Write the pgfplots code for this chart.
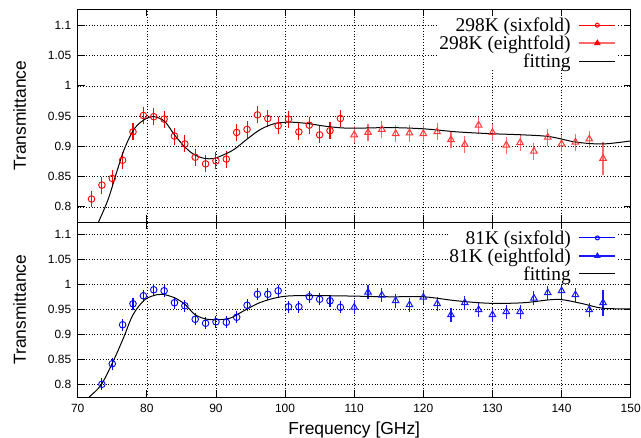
\documentclass[border=0pt]{standalone}
\usepackage{fontspec}
\setmainfont{Liberation Sans}
\newfontfamily\legfont{Liberation Serif}
\usepackage{pgfplots}
\pgfplotsset{compat=1.18}
\usepackage{pgfplotstable}

\definecolor{redA}{RGB}{255,0,0}
\definecolor{redB}{RGB}{255,55,55}
\definecolor{redBbar}{RGB}{255,105,105}
\definecolor{blueA}{RGB}{0,0,255}
\definecolor{blueB}{RGB}{25,25,255}

\pgfplotstableread{
x y e
72 0.813 0.014
73.5 0.836 0.014
75 0.847 0.014
76.5 0.877 0.014
78 0.924 0.014
79.5 0.951 0.014
81 0.949 0.014
82.5 0.945 0.014
84 0.917 0.014
85.5 0.904 0.014
87 0.882 0.014
88.5 0.871 0.014
90 0.876 0.014
91.5 0.879 0.014
93 0.923 0.014
94.5 0.928 0.014
96 0.952 0.014
97.5 0.946 0.014
99 0.934 0.014
100.5 0.945 0.014
102 0.924 0.014
103.5 0.935 0.014
105 0.919 0.014
106.5 0.926 0.014
108 0.946 0.014
}\topsix

\pgfplotstableread{
x y e
110 0.919 0.014
112 0.923 0.014
114 0.928 0.014
116 0.921 0.014
118 0.922 0.014
120 0.921 0.014
122 0.924 0.014
124 0.911 0.014
126 0.903 0.014
128 0.935 0.014
130 0.923 0.014
132 0.902 0.014
134 0.906 0.014
136 0.892 0.014
138 0.915 0.014
140 0.904 0.014
142 0.907 0.014
144 0.912 0.014
146 0.880 0.028
}\topeight

\pgfplotstableread{
x y
72.0 0.748
72.94 0.773
74.39 0.812
75.6 0.856
76.8 0.897
78.25 0.930
79.9 0.946
81.1 0.949
82.6 0.941
84.0 0.919
85.5 0.899
86.9 0.886
88.4 0.880
89.8 0.880
90.5 0.883
92.5 0.894
94.4 0.911
96.3 0.927
98.3 0.937
100.4 0.940
103.1 0.938
106.0 0.933
109.3 0.930
115.1 0.931
120.0 0.929
124.8 0.924
129.6 0.921
134.4 0.919
138.3 0.916
142.1 0.907
146.0 0.904
150.0 0.909
}\topfit

\pgfplotstableread{
x y e
73.5 0.800 0.012
75 0.841 0.012
76.5 0.919 0.012
78 0.961 0.012
79.5 0.977 0.012
81 0.989 0.012
82.5 0.987 0.012
84 0.963 0.012
85.5 0.957 0.012
87 0.930 0.012
88.5 0.922 0.012
90 0.925 0.012
91.5 0.924 0.012
93 0.934 0.012
94.5 0.958 0.012
96 0.980 0.012
97.5 0.980 0.012
99 0.987 0.012
100.5 0.955 0.012
102 0.955 0.012
103.5 0.975 0.012
105 0.970 0.012
106.5 0.967 0.012
108 0.954 0.012
}\botsix

\pgfplotstableread{
x y e
110 0.954 0.014
112 0.984 0.014
114 0.978 0.014
116 0.967 0.014
118 0.959 0.014
120 0.974 0.014
122 0.961 0.014
124 0.939 0.014
126 0.963 0.014
128 0.949 0.014
130 0.939 0.014
132 0.945 0.014
134 0.945 0.014
136 0.972 0.014
138 0.983 0.014
140 0.987 0.014
142 0.979 0.014
144 0.949 0.014
146 0.963 0.026
}\boteight

\pgfplotstableread{
x y
71.0 0.765
71.7 0.775
73.4 0.799
75.1 0.845
76.6 0.892
78.0 0.939
79.7 0.969
81.4 0.979
82.3 0.980
84.0 0.973
85.5 0.960
86.9 0.940
88.4 0.931
89.8 0.929
92.0 0.932
93.9 0.946
96.3 0.963
98.7 0.973
101.1 0.977
106.9 0.977
115.1 0.975
120.0 0.975
124.8 0.967
129.6 0.962
134.4 0.963
138.3 0.969
140.2 0.969
143.1 0.961
146.0 0.952
150.0 0.951
}\botfit

\pgfplotsset{
  panel/.style={
    scale only axis, width=553bp,
    xmin=70, xmax=150,
    xtick={70,80,90,100,110,120,130,140,150},
    ytick={0.8,0.85,0.9,0.95,1,1.05,1.1},
    tick align=inside, major tick length=7bp,
    xtick pos=both, ytick pos=both,
    axis line style={black, line width=0.9bp},
    every tick/.style={black, line width=0.8bp},
    grid=major,
    major grid style={black, line width=0.5bp, dash pattern=on 0.8bp off 2bp},
    /pgf/number format/assume math mode=true,
    ticklabel style={font=\fontsize{12}{14}\selectfont},
    xticklabel style={yshift=-3.5bp},
    yticklabel style={xshift=-3bp},
    label style={font=\fontsize{17.5}{20}\selectfont},
    ylabel style={at={(axis description cs:-0.1049,0.5)}, anchor=center},
    xlabel style={at={(axis description cs:0.5,0)}, anchor=center, yshift=-32.4bp},
    legend style={at={(1,1)}, anchor=north east, xshift=-14.7bp, yshift=-6.9bp,
      draw=none, fill=white, inner sep=0pt, outer sep=0pt,
      font=\legfont\fontsize{19.5}{18}\selectfont,
      row sep=0pt, column sep=8bp,
      nodes={inner sep=0pt, text height=15.3bp, text depth=2.7bp}},
    legend cell align=right, legend plot pos=right,
  },
  seg/.style={legend image code/.code={\draw[mark repeat=2,mark phase=2] plot coordinates {(0bp,0bp) (18bp,0bp) (36bp,0bp)};}},
}

\begin{document}
\begin{tikzpicture}
% bottom panel
\begin{axis}[panel, at={(0,0)}, anchor=south west, height=175.3bp,
  ymin=0.774, ymax=1.1245,
  xlabel={Frequency [GHz]}, ylabel={Transmittance}]
\addplot[forget plot, only marks, color=blueA, mark=o, mark size=3.3bp,
  mark options={line width=0.9bp},
  error bars/.cd, y dir=both, y explicit, error mark=none,
  error bar style={line width=1.1bp, blueA}]
  table[x=x, y=y, y error=e] {\botsix};
\addplot[forget plot, only marks, color=blueB, mark=triangle, mark size=3.8bp,
  mark options={line width=1bp},
  error bars/.cd, y dir=both, y explicit, error mark=none,
  error bar style={line width=1.1bp, blueB}]
  table[x=x, y=y, y error=e] {\boteight};
\addplot[forget plot, black, line width=1bp, smooth, tension=0.55] table[x=x, y=y] {\botfit};
\addlegendimage{seg, blueA, line width=1bp, mark=o, mark size=2bp, mark options={solid}}
\addlegendentry{81K (sixfold)}
\addlegendimage{seg, blueB, line width=1.2bp, mark=triangle*, mark size=2.6bp, mark options={solid}}
\addlegendentry{81K (eightfold)}
\addlegendimage{seg, black, line width=1bp}
\addlegendentry{fitting}
\end{axis}
% top panel
\begin{axis}[panel, at={(0,175.3bp)}, anchor=south west, height=212.7bp,
  ymin=0.775, ymax=1.1265, xticklabels={},
  ylabel={Transmittance}]
\addplot[forget plot, only marks, color=redA, mark=o, mark size=3.3bp,
  mark options={line width=0.9bp},
  error bars/.cd, y dir=both, y explicit, error mark=none,
  error bar style={line width=1.1bp, redA}]
  table[x=x, y=y, y error=e] {\topsix};
\addplot[forget plot, only marks, color=redB, mark=triangle, mark size=3.8bp,
  mark options={line width=1bp},
  error bars/.cd, y dir=both, y explicit, error mark=none,
  error bar style={line width=1.1bp, redBbar}]
  table[x=x, y=y, y error=e] {\topeight};
\addplot[forget plot, black, line width=1bp, smooth, tension=0.55] table[x=x, y=y] {\topfit};
\addlegendimage{seg, redA, line width=1bp, mark=o, mark size=2bp, mark options={solid}}
\addlegendentry{298K (sixfold)}
\addlegendimage{seg, redBbar, line width=1.4bp, mark=triangle*, mark size=2.6bp, mark options={solid, fill=redA, draw=redA}}
\addlegendentry{298K (eightfold)}
\addlegendimage{seg, black, line width=1bp}
\addlegendentry{fitting}
\end{axis}
\pgfresetboundingbox
\path[use as bounding box] (-77.7bp,-40.7bp) rectangle (563.3bp,397.3bp);
\end{tikzpicture}
\end{document}
